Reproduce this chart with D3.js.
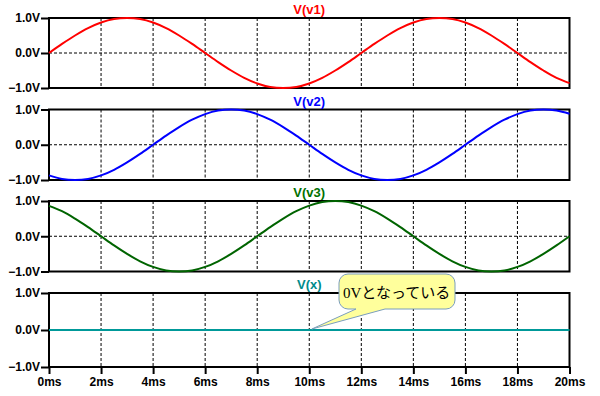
<!DOCTYPE html>
<html lang="ja">
<head>
  <meta charset="utf-8">
  <title>V(v1) V(v2) V(v3) V(x)</title>
  <script src="https://cdn.jsdelivr.net/npm/d3@7"></script>
  <style>
    body { margin: 0; background: #fff; }
    .tick text { font: bold 12px "Liberation Sans", Arial, sans-serif; fill: #000; }
    .tick line { stroke: #000; stroke-width: 2; }
    .title { font: bold 13px "Liberation Sans", Arial, sans-serif; text-anchor: middle; }
    .grid { stroke: #000; stroke-width: 1; stroke-dasharray: 3,2; }
    .frame { fill: none; stroke: #000; stroke-width: 2; }
    .trace { fill: none; stroke-width: 2; }
  </style>
</head>
<body>
<div id="chart"></div>
<script>
  var times = [0, 0.5, 1, 1.5, 2, 2.5, 3, 3.5, 4, 4.5, 5, 5.5, 6, 6.5, 7, 7.5, 8, 8.5, 9, 9.5, 10,
    10.5, 11, 11.5, 12, 12.5, 13, 13.5, 14, 14.5, 15, 15.5, 16, 16.5, 17, 17.5, 18, 18.5, 19, 19.5, 20];

  var v1 = [0, 0.26, 0.5, 0.71, 0.87, 0.97, 1, 0.97, 0.87, 0.71, 0.5, 0.26, 0, -0.26, -0.5, -0.71, -0.87, -0.97, -1, -0.97, -0.87,
    -0.71, -0.5, -0.26, 0, 0.26, 0.5, 0.71, 0.87, 0.97, 1, 0.97, 0.87, 0.71, 0.5, 0.26, 0, -0.26, -0.5, -0.71, -0.86];

  var v2 = [-0.87, -0.97, -1, -0.97, -0.87, -0.71, -0.5, -0.26, 0, 0.26, 0.5, 0.71, 0.87, 0.97, 1, 0.97, 0.87, 0.71, 0.5, 0.26, 0,
    -0.26, -0.5, -0.71, -0.87, -0.97, -1, -0.97, -0.87, -0.71, -0.5, -0.26, 0, 0.26, 0.5, 0.71, 0.87, 0.97, 1, 0.97, 0.88];

  var v3 = [0.86, 0.71, 0.5, 0.26, 0, -0.26, -0.5, -0.71, -0.87, -0.97, -1, -0.97, -0.87, -0.71, -0.5, -0.26, 0, 0.26, 0.5, 0.71, 0.87,
    0.97, 1, 0.97, 0.87, 0.71, 0.5, 0.26, 0, -0.26, -0.5, -0.71, -0.87, -0.97, -1, -0.97, -0.87, -0.71, -0.5, -0.26, 0];

  var vx = [0, 0, 0, 0, 0, 0, 0, 0, 0, 0, 0, 0, 0, 0, 0, 0, 0, 0, 0, 0, 0,
    0, 0, 0, 0, 0, 0, 0, 0, 0, 0, 0, 0, 0, 0, 0, 0, 0, 0, 0, 0];

  var names = ['V(v1)', 'V(v2)', 'V(v3)', 'V(x)'];
  var colors = ['#ff0000', '#0000ff', '#006400', '#009999'];
  var titleColors = ['#ff0000', '#0000ff', '#007000', '#008b8b'];
  var series = [v1, v2, v3, vx];
  var yTicks = [-1, 0, 1];
  var xTicks = [0, 2, 4, 6, 8, 10, 12, 14, 16, 18, 20];
  var note = '0Vとなっている';

  var width = 600, height = 396;
  var paneTop = [18, 109.5, 201, 293];
  var paneH = [70, 70.5, 70.5, 74];

  var svg = d3.select('#chart').append('svg')
    .attr('width', width)
    .attr('height', height);

  var x = d3.scaleLinear().domain([0, 20]).range([49, 569.5]);

  series.forEach(function (vals, i) {
    var top = paneTop[i], h = paneH[i];
    var y = d3.scaleLinear().domain([-1, 1]).range([top + h, top]);
    var g = svg.append('g');

    // grid
    g.selectAll('.vgrid')
      .data(xTicks.slice(1, -1))
      .enter().append('line')
      .attr('class', 'grid')
      .attr('x1', d => x(d)).attr('x2', d => x(d))
      .attr('y1', top).attr('y2', top + h);
    g.append('line')
      .attr('class', 'grid')
      .attr('x1', x(0)).attr('x2', x(20))
      .attr('y1', y(0)).attr('y2', y(0));

    g.append('rect')
      .attr('class', 'frame')
      .attr('x', x(0)).attr('y', top)
      .attr('width', x(20) - x(0)).attr('height', h);

    var yAxis = g.append('g')
      .attr('transform', 'translate(' + x(0) + ',0)')
      .call(d3.axisLeft(y).tickValues(yTicks).tickSize(8).tickPadding(1)
        .tickFormat(d => d3.format('.1f')(d) + 'V'));
    yAxis.select('.domain').remove();

    g.append('text')
      .attr('class', 'title')
      .attr('x', (x(0) + x(20)) / 2)
      .attr('y', top - 4)
      .style('fill', titleColors[i])
      .text(names[i]);

    var line = d3.line()
      .x((d, k) => x(times[k]))
      .y(d => y(d))
      .curve(d3.curveCatmullRom);

    g.append('path')
      .datum(vals)
      .attr('class', 'trace')
      .attr('stroke', colors[i])
      .attr('d', line);

    if (i === 3) {
      var xAxis = g.append('g')
        .attr('transform', 'translate(0,' + (top + h) + ')')
        .call(d3.axisBottom(x).tickValues(xTicks).tickSize(7).tickPadding(3)
          .tickFormat(d => d + 'ms'));
      xAxis.select('.domain').remove();
    }
  });

  // callout bubble
  var bx0 = 339, bx1 = 455, by0 = 274, by1 = 309, r = 9;
  var tip = [x(10.1), 329];
  var p = d3.path();
  p.moveTo(bx0 + r, by0);
  p.lineTo(bx1 - r, by0);
  p.arcTo(bx1, by0, bx1, by0 + r, r);
  p.lineTo(bx1, by1 - r);
  p.arcTo(bx1, by1, bx1 - r, by1, r);
  p.lineTo(385, by1);
  p.lineTo(tip[0], tip[1]);
  p.lineTo(356, by1);
  p.lineTo(bx0 + r, by1);
  p.arcTo(bx0, by1, bx0, by1 - r, r);
  p.lineTo(bx0, by0 + r);
  p.arcTo(bx0, by0, bx0 + r, by0, r);
  p.closePath();

  svg.append('path')
    .attr('d', p.toString())
    .attr('fill', '#ffff9c')
    .attr('stroke', '#7b9ebd')
    .attr('stroke-width', 1);

  svg.append('text')
    .attr('x', 343)
    .attr('y', 298)
    .style('font', '15px "Liberation Serif", "Noto Sans CJK JP", serif')
    .style('fill', '#000')
    .text(note);
</script>
</body>
</html>
